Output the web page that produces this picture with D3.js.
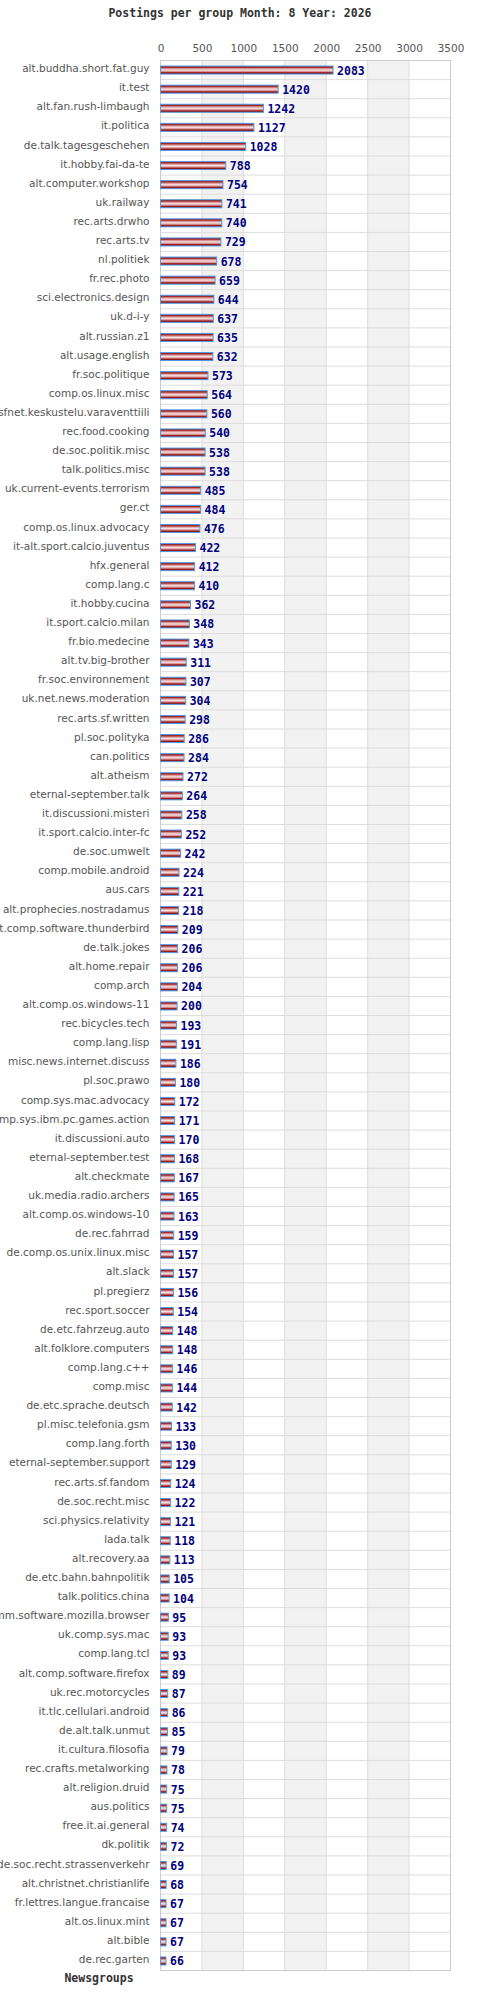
<!DOCTYPE html>
<html>
<head>
<meta charset="utf-8">
<script src="https://cdn.jsdelivr.net/npm/d3@7"></script>
<style>
  body { margin: 0; background: #fff; }
</style>
</head>
<body>
<svg id="chart"></svg>
<script>
// data
const groups = [
  "alt.buddha.short.fat.guy", "it.test", "alt.fan.rush-limbaugh", "it.politica",
  "de.talk.tagesgeschehen", "it.hobby.fai-da-te", "alt.computer.workshop", "uk.railway",
  "rec.arts.drwho", "rec.arts.tv", "nl.politiek", "fr.rec.photo",
  "sci.electronics.design", "uk.d-i-y", "alt.russian.z1", "alt.usage.english",
  "fr.soc.politique", "comp.os.linux.misc", "sfnet.keskustelu.varaventtiili", "rec.food.cooking",
  "de.soc.politik.misc", "talk.politics.misc", "uk.current-events.terrorism", "ger.ct",
  "comp.os.linux.advocacy", "it-alt.sport.calcio.juventus", "hfx.general", "comp.lang.c",
  "it.hobby.cucina", "it.sport.calcio.milan", "fr.bio.medecine", "alt.tv.big-brother",
  "fr.soc.environnement", "uk.net.news.moderation", "rec.arts.sf.written", "pl.soc.polityka",
  "can.politics", "alt.atheism", "eternal-september.talk", "it.discussioni.misteri",
  "it.sport.calcio.inter-fc", "de.soc.umwelt", "comp.mobile.android", "aus.cars",
  "alt.prophecies.nostradamus", "alt.comp.software.thunderbird", "de.talk.jokes", "alt.home.repair",
  "comp.arch", "alt.comp.os.windows-11", "rec.bicycles.tech", "comp.lang.lisp",
  "misc.news.internet.discuss", "pl.soc.prawo", "comp.sys.mac.advocacy", "comp.sys.ibm.pc.games.action",
  "it.discussioni.auto", "eternal-september.test", "alt.checkmate", "uk.media.radio.archers",
  "alt.comp.os.windows-10", "de.rec.fahrrad", "de.comp.os.unix.linux.misc", "alt.slack",
  "pl.pregierz", "rec.sport.soccer", "de.etc.fahrzeug.auto", "alt.folklore.computers",
  "comp.lang.c++", "comp.misc", "de.etc.sprache.deutsch", "pl.misc.telefonia.gsm",
  "comp.lang.forth", "eternal-september.support", "rec.arts.sf.fandom", "de.soc.recht.misc",
  "sci.physics.relativity", "lada.talk", "alt.recovery.aa", "de.etc.bahn.bahnpolitik",
  "talk.politics.china", "gmane.comm.software.mozilla.browser", "uk.comp.sys.mac", "comp.lang.tcl",
  "alt.comp.software.firefox", "uk.rec.motorcycles", "it.tlc.cellulari.android", "de.alt.talk.unmut",
  "it.cultura.filosofia", "rec.crafts.metalworking", "alt.religion.druid", "aus.politics",
  "free.it.ai.general", "dk.politik", "de.soc.recht.strassenverkehr", "alt.christnet.christianlife",
  "fr.lettres.langue.francaise", "alt.os.linux.mint", "alt.bible", "de.rec.garten"
];

const postings = [
  2083, 1420, 1242, 1127, 1028, 788, 754, 741, 740, 729, 678, 659,
  644, 637, 635, 632, 573, 564, 560, 540, 538, 538, 485, 484,
  476, 422, 412, 410, 362, 348, 343, 311, 307, 304, 298, 286,
  284, 272, 264, 258, 252, 242, 224, 221, 218, 209, 206, 206,
  204, 200, 193, 191, 186, 180, 172, 171, 170, 168, 167, 165,
  163, 159, 157, 157, 156, 154, 148, 148, 146, 144, 142, 133,
  130, 129, 124, 122, 121, 118, 113, 105, 104, 95, 93, 93,
  89, 87, 86, 85, 79, 78, 75, 75, 74, 72, 69, 68,
  67, 67, 67, 66
];

const xTicks = [0, 500, 1000, 1500, 2000, 2500, 3000, 3500];

const titleText = "Postings per group Month: 8 Year: 2026";
const yTitle = "Newsgroups";

function drawGraph() {
  const width = 480;
  const height = 2000;
  const left = 160.5;
  const right = 450.5;
  const top = 60.5;
  const bottom = 1970.5;

  const svg = d3.select("#chart")
    .attr("width", width)
    .attr("height", height);

  // scales
  const xScale = d3.scaleLinear()
    .domain([0, 3500])
    .range([left, right]);

  const yScale = d3.scaleBand()
    .domain(groups)
    .range([top, bottom])
    .paddingInner(0)
    .paddingOuter(0);

  // bar stripes
  const grad = svg.append("defs").append("linearGradient")
    .attr("id", "stripe")
    .attr("x1", 0).attr("y1", 0).attr("x2", 0).attr("y2", 1);
  [[0, "#8c0c0c"], [0.18, "#a83030"], [0.32, "#d89494"], [0.5, "#f6e2e2"],
   [0.68, "#d89494"], [0.82, "#a02020"], [1, "#780000"]]
    .forEach(s => grad.append("stop").attr("offset", s[0]).attr("stop-color", s[1]));

  // background bands
  svg.append("g")
    .selectAll("rect")
    .data(d3.pairs(xTicks))
    .enter()
    .append("rect")
    .attr("x", d => xScale(d[0]))
    .attr("y", top)
    .attr("width", d => xScale(d[1]) - xScale(d[0]))
    .attr("height", bottom - top)
    .attr("fill", (d, i) => i % 2 ? "#f2f2f2" : "#ffffff");

  // grid
  svg.append("g")
    .selectAll("line")
    .data(xTicks)
    .enter()
    .append("line")
    .attr("x1", d => xScale(d)).attr("x2", d => xScale(d))
    .attr("y1", top).attr("y2", bottom)
    .attr("stroke", "#dddddd");

  svg.append("g")
    .selectAll("line")
    .data(groups)
    .enter()
    .append("line")
    .attr("x1", left).attr("x2", right)
    .attr("y1", d => yScale(d) + yScale.bandwidth())
    .attr("y2", d => yScale(d) + yScale.bandwidth())
    .attr("stroke", "#dddddd");

  svg.append("rect")
    .attr("x", left).attr("y", top)
    .attr("width", right - left).attr("height", bottom - top)
    .attr("fill", "none")
    .attr("stroke", "#cccccc");

  // bars
  const barH = 8;
  svg.append("g")
    .selectAll("rect")
    .data(postings)
    .enter()
    .append("rect")
    .attr("x", xScale(0))
    .attr("y", (d, i) => yScale(groups[i]) + yScale.bandwidth() / 2 - barH / 2)
    .attr("width", d => xScale(d) - xScale(0))
    .attr("height", barH)
    .attr("fill", "url(#stripe)")
    .attr("stroke", "#4d9be6")
    .attr("stroke-width", 1);

  // value labels
  svg.append("g")
    .selectAll("text")
    .data(postings)
    .enter()
    .append("text")
    .attr("x", d => xScale(d) + 4)
    .attr("y", (d, i) => yScale(groups[i]) + yScale.bandwidth() / 2 + 4.5)
    .attr("fill", "#000080")
    .style("font-family", "'DejaVu Sans Mono', monospace")
    .style("font-weight", "bold")
    .style("font-size", "11.5px")
    .text(d => d);

  // axes
  const xAxis = d3.axisTop(xScale)
    .tickValues(xTicks)
    .tickFormat(d3.format("d"))
    .tickSize(0)
    .tickPadding(0);
  const gx = svg.append("g")
    .attr("transform", `translate(0, ${top - 9})`)
    .call(xAxis);
  gx.select(".domain").remove();
  gx.selectAll("text")
    .attr("fill", "#555")
    .style("font-family", "'DejaVu Sans', sans-serif")
    .style("font-size", "10.5px");

  const yAxis = d3.axisLeft(yScale).tickSize(0).tickPadding(11);
  const gy = svg.append("g")
    .attr("transform", `translate(${left}, 0)`)
    .call(yAxis);
  gy.select(".domain").remove();
  gy.selectAll("text")
    .attr("fill", "#555")
    .attr("dy", "0.2em")
    .style("font-family", "'DejaVu Sans', sans-serif")
    .style("font-size", "10.5px");

  // titles
  svg.append("text")
    .attr("x", 240)
    .attr("y", 17)
    .attr("text-anchor", "middle")
    .attr("fill", "#333")
    .style("font-family", "'DejaVu Sans Mono', monospace")
    .style("font-weight", "bold")
    .style("font-size", "11.5px")
    .text(titleText);

  svg.append("text")
    .attr("x", 99)
    .attr("y", 1982)
    .attr("text-anchor", "middle")
    .attr("fill", "#333")
    .style("font-family", "'DejaVu Sans Mono', monospace")
    .style("font-weight", "bold")
    .style("font-size", "11.5px")
    .text(yTitle);
}

drawGraph();
</script>
</body>
</html>
